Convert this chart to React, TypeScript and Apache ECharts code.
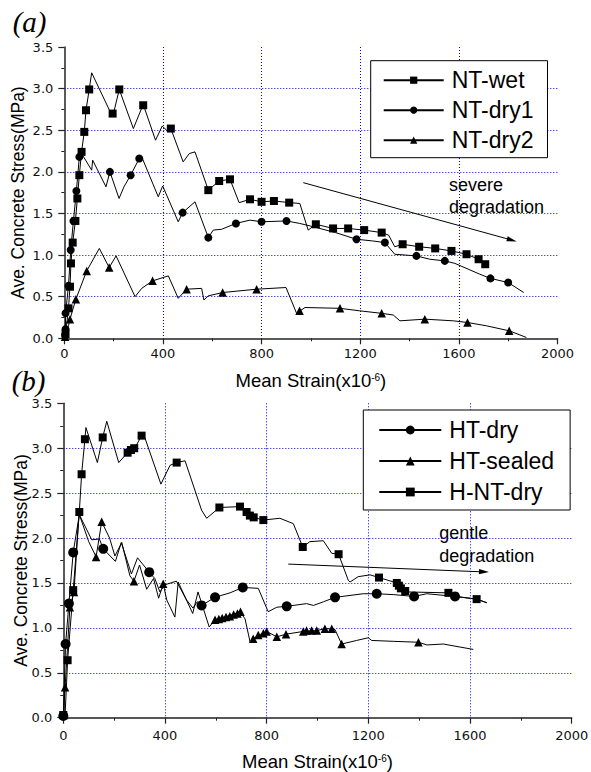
import { useEffect, useRef } from 'react';
import * as echarts from 'echarts';

type P = [number, number];

// ---------- axes ----------
const X_MAX = 2000;
const X_STEP = 400;
const Y_MAX = 3.5;
const Y_STEP = 0.5;
const X_TITLE = 'Mean Strain(x10{sup|-6})';
const Y_TITLE = 'Ave. Concrete Stress(MPa)';

// ---------- panel (a) ----------
const NT_WET_LINE: P[] = [
  [0, 0], [5, 0.05], [17, 0.36], [23, 0.62], [27, 0.9], [34, 1.15], [45, 1.41], [53, 1.68], [61, 1.96],
  [70, 2.24], [81, 2.48], [88, 2.74], [101, 2.99], [111, 3.19], [196, 2.66], [223, 2.99], [280, 2.52],
  [320, 2.81], [370, 2.38], [397, 2.55], [415, 2.5], [432, 2.52], [482, 2.12], [507, 2.22], [530, 2.24],
  [584, 1.78], [628, 1.89], [672, 1.91], [709, 1.63], [753, 1.67], [800, 1.64], [850, 1.65], [915, 1.63],
  [955, 1.62], [989, 1.3], [1020, 1.37], [1090, 1.32], [1151, 1.32], [1216, 1.3], [1287, 1.27],
  [1315, 1.24], [1340, 1.1], [1372, 1.13], [1439, 1.1], [1504, 1.08], [1570, 1.05], [1631, 1.01],
  [1680, 0.95], [1707, 0.89],
];
const NT_WET_MARKS: P[] = [
  [5, 0.05], [17, 0.36], [23, 0.62], [27, 0.9], [34, 1.15], [45, 1.41], [53, 1.68], [61, 1.96], [70, 2.24],
  [81, 2.48], [88, 2.74], [101, 2.99], [196, 2.7], [223, 2.99], [320, 2.8], [432, 2.52], [584, 1.78],
  [628, 1.89], [672, 1.91], [753, 1.67], [800, 1.64], [850, 1.65], [912, 1.63], [1020, 1.37], [1090, 1.32],
  [1151, 1.32], [1216, 1.3], [1287, 1.27], [1372, 1.13], [1439, 1.1], [1504, 1.08], [1570, 1.05],
  [1631, 1.01], [1680, 0.95], [1707, 0.89],
];

const NT_DRY1_LINE: P[] = [
  [0, 0], [3, 0.04], [5, 0.11], [5, 0.3], [17, 0.63], [26, 1.06], [37, 1.41], [49, 1.77], [61, 2.18],
  [70, 2.22], [111, 2.02], [115, 2.14], [169, 1.82], [185, 2.0], [222, 1.68], [242, 1.82], [269, 1.96],
  [304, 2.16], [314, 2.18], [381, 1.7], [399, 1.83], [462, 1.4], [480, 1.51], [530, 1.64], [584, 1.21],
  [604, 1.3], [638, 1.31], [696, 1.38], [753, 1.42], [800, 1.4], [901, 1.41], [955, 1.38], [1010, 1.34],
  [1100, 1.27], [1185, 1.19], [1250, 1.17], [1300, 1.15], [1340, 1.01], [1428, 0.99], [1482, 0.95],
  [1543, 0.93], [1584, 0.9], [1685, 0.77], [1728, 0.72], [1800, 0.67], [1863, 0.55],
];
const NT_DRY1_MARKS: P[] = [
  [3, 0.04], [5, 0.11], [5, 0.3], [17, 0.63], [26, 1.06], [37, 1.41], [49, 1.77], [61, 2.18], [185, 2.0],
  [269, 1.96], [304, 2.16], [480, 1.51], [584, 1.21], [696, 1.38], [800, 1.4], [901, 1.41], [1185, 1.19],
  [1300, 1.15], [1428, 0.99], [1543, 0.93], [1728, 0.72], [1800, 0.67],
];

const NT_DRY2_LINE: P[] = [
  [0, 0], [3, 0.02], [17, 0.15], [23, 0.23], [47, 0.47], [91, 0.81], [142, 1.08], [182, 0.85], [210, 0.99],
  [287, 0.5], [314, 0.6], [358, 0.69], [422, 0.75], [462, 0.48], [496, 0.59], [557, 0.6], [566, 0.46],
  [584, 0.51], [642, 0.55], [780, 0.59], [899, 0.61], [942, 0.3], [976, 0.37], [1118, 0.36], [1198, 0.33],
  [1287, 0.3], [1334, 0.28], [1361, 0.21], [1462, 0.23], [1577, 0.21], [1635, 0.19], [1712, 0.15],
  [1804, 0.09], [1874, 0.01],
];
const NT_DRY2_MARKS: P[] = [
  [3, 0.02], [23, 0.23], [47, 0.47], [91, 0.81], [182, 0.85], [358, 0.69], [496, 0.59], [642, 0.55],
  [780, 0.59], [954, 0.33], [1118, 0.36], [1287, 0.3], [1462, 0.23], [1635, 0.19], [1804, 0.09],
];

// ---------- panel (b) ----------
const HT_DRY_LINE: P[] = [
  [0, 0], [9, 0.82], [22, 1.27], [39, 1.84], [63, 2.26], [112, 1.98], [142, 1.99], [157, 1.88], [205, 1.74],
  [228, 1.95], [268, 1.6], [292, 1.78], [315, 1.7], [338, 1.62], [360, 1.55], [380, 1.4], [400, 1.48],
  [445, 1.52], [485, 1.31], [510, 1.22], [527, 1.29], [544, 1.25], [597, 1.34], [620, 1.36], [656, 1.39],
  [706, 1.45], [767, 1.44], [806, 1.18], [840, 1.23], [879, 1.24], [957, 1.27], [984, 1.25], [1023, 1.29],
  [1069, 1.34], [1180, 1.38], [1233, 1.38], [1300, 1.37], [1380, 1.35], [1430, 1.38], [1541, 1.35],
  [1600, 1.33], [1626, 1.32], [1666, 1.28],
];
const HT_DRY_MARKS: P[] = [
  [0, 0.02], [9, 0.82], [22, 1.27], [39, 1.84], [157, 1.88], [338, 1.62], [544, 1.25], [597, 1.34],
  [706, 1.45], [879, 1.24], [1069, 1.34], [1233, 1.38], [1380, 1.35], [1541, 1.35],
];

const HT_SEALED_LINE: P[] = [
  [0, 0], [7, 0.34], [26, 1.23], [42, 1.4], [62, 2.27], [100, 1.96], [129, 1.79], [151, 2.18], [182, 2.0],
  [203, 1.8], [230, 1.95], [262, 1.58], [278, 1.52], [300, 1.7], [328, 1.43], [355, 1.55], [375, 1.33],
  [393, 1.49], [407, 1.31], [439, 1.12], [452, 1.51], [509, 1.16], [530, 1.4], [574, 1.01], [597, 1.09],
  [620, 1.11], [645, 1.13], [670, 1.15], [695, 1.18], [715, 1.1], [735, 0.84], [747, 0.88], [770, 0.92],
  [800, 0.96], [840, 0.9], [876, 0.93], [944, 0.96], [997, 0.97], [1029, 0.99], [1056, 0.99], [1069, 0.98],
  [1095, 0.82], [1154, 0.86], [1200, 0.89], [1213, 0.86], [1300, 0.85], [1397, 0.84], [1430, 0.81],
  [1495, 0.82], [1613, 0.76],
];
const HT_SEALED_MARKS: P[] = [
  [3, 0.03], [7, 0.34], [26, 1.23], [42, 1.4], [129, 1.79], [151, 2.18], [278, 1.52], [393, 1.49],
  [597, 1.09], [612, 1.1], [625, 1.11], [640, 1.12], [655, 1.13], [670, 1.15], [685, 1.16], [697, 1.18],
  [747, 0.88], [767, 0.92], [787, 0.94], [800, 0.96], [840, 0.9], [876, 0.93], [944, 0.96], [957, 0.97],
  [977, 0.97], [997, 0.97], [1029, 0.99], [1056, 0.99], [1095, 0.82], [1397, 0.84],
];

const H_NT_DRY_LINE: P[] = [
  [0, 0], [7, 0.03], [17, 0.64], [39, 1.42], [63, 2.29], [72, 2.71], [85, 3.1], [89, 3.23], [134, 2.84],
  [155, 3.12], [171, 3.3], [218, 2.84], [253, 2.95], [266, 2.98], [279, 2.99], [308, 3.14], [318, 3.14],
  [384, 2.6], [420, 2.81], [446, 2.84], [479, 2.86], [544, 2.31], [564, 2.22], [614, 2.34], [695, 2.35],
  [721, 2.29], [734, 2.25], [749, 2.23], [787, 2.2], [852, 2.22], [905, 2.16], [942, 1.9], [970, 1.96],
  [1023, 1.97], [1056, 1.83], [1083, 1.82], [1121, 1.53], [1128, 1.51], [1160, 1.57], [1207, 1.59],
  [1242, 1.56], [1312, 1.5], [1322, 1.46], [1331, 1.43], [1351, 1.4], [1515, 1.39], [1541, 1.35],
  [1626, 1.32], [1666, 1.28],
];
const H_NT_DRY_MARKS: P[] = [
  [0, 0.03], [17, 0.64], [39, 1.42], [63, 2.29], [72, 2.71], [85, 3.1], [155, 3.12], [253, 2.95],
  [266, 2.98], [279, 3.0], [308, 3.14], [446, 2.84], [614, 2.34], [695, 2.35], [721, 2.29], [734, 2.25],
  [749, 2.23], [787, 2.2], [942, 1.9], [1083, 1.82], [1242, 1.56], [1312, 1.5], [1320, 1.47], [1328, 1.44],
  [1345, 1.41], [1515, 1.39], [1626, 1.32],
];

// ---------- annotation arrows (data coordinates) ----------
const ARROW_A: P[] = [[969, 1.87], [1815, 1.18]];
const ARROW_B: P[] = [[885, 1.71], [1655, 1.623]];

const SANS = 'Liberation Sans';
const TICK_FONT = 'DejaVu Sans';
const AXIS_COLOR = '#222';
const GRID_COLOR = '#0000ff';
// slim arrow head: triangle inside a square bounding box
const ARROW_HEAD = 'path://M5 0L7.6 10L2.4 10Z M0 0L0 0.01L0.01 0.01Z M10 10L10 9.99L9.99 9.99Z';

function xAxis(gridIndex: number, labelMargin: number, nameGap: number) {
  return {
    type: 'value',
    gridIndex,
    min: 0,
    max: X_MAX,
    interval: X_STEP,
    name: X_TITLE,
    nameLocation: 'middle',
    nameGap,
    nameMoveOverlap: false,
    nameTextStyle: {
      fontFamily: SANS,
      fontSize: 18.5,
      color: '#000',
      lineHeight: 20,
      rich: {
        sup: { fontFamily: SANS, fontSize: 10, lineHeight: 10, color: '#000', verticalAlign: 'middle', padding: [0, 0, 5, 0] },
      },
    },
    axisLine: { show: true, onZero: false, lineStyle: { color: AXIS_COLOR, width: 1.5 } },
    axisTick: { show: true, inside: false, length: 6, lineStyle: { color: AXIS_COLOR, width: 1.2 } },
    minorTick: { show: true, splitNumber: 2, length: 3, lineStyle: { color: AXIS_COLOR, width: 1 } },
    axisLabel: {
      show: true,
      margin: labelMargin,
      fontFamily: TICK_FONT,
      fontSize: 13,
      color: '#111',
      showMinLabel: true,
      showMaxLabel: true,
      formatter: (v: number) => String(v),
    },
    splitLine: {
      show: true,
      showMinLine: false,
      showMaxLine: false,
      lineStyle: { color: GRID_COLOR, width: 1, type: [1, 2] },
    },
    minorSplitLine: { show: false },
  };
}

function yAxis(gridIndex: number, nameGap: number) {
  return {
    type: 'value',
    gridIndex,
    min: 0,
    max: Y_MAX,
    interval: Y_STEP,
    name: Y_TITLE,
    nameLocation: 'middle',
    nameGap,
    nameMoveOverlap: false,
    nameTextStyle: { fontFamily: SANS, fontSize: 17.5, color: '#000', lineHeight: 18 },
    axisLine: { show: true, onZero: false, lineStyle: { color: AXIS_COLOR, width: 1.5 } },
    axisTick: { show: true, inside: false, length: 6, lineStyle: { color: AXIS_COLOR, width: 1.2 } },
    minorTick: { show: true, splitNumber: 2, length: 3, lineStyle: { color: AXIS_COLOR, width: 1 } },
    axisLabel: {
      show: true,
      margin: 11,
      fontFamily: TICK_FONT,
      fontSize: 13,
      color: '#111',
      showMinLabel: true,
      showMaxLabel: true,
      formatter: (v: number) => v.toFixed(1),
    },
    splitLine: {
      show: true,
      showMinLine: false,
      showMaxLine: false,
      lineStyle: { color: GRID_COLOR, width: 1, type: [1, 2] },
    },
    minorSplitLine: { show: false },
  };
}

function curve(name: string, data: P[], symbol: string, idx: number, arrow?: P[]) {
  const s: any = {
    type: 'line',
    name,
    xAxisIndex: idx,
    yAxisIndex: idx,
    data,
    symbol,
    symbolSize: 8,
    showSymbol: false,
    smooth: false,
    silent: true,
    lineStyle: { color: '#000', width: 1 },
    itemStyle: { color: '#000' },
    z: 2,
  };
  if (arrow) {
    s.markLine = {
      silent: true,
      animation: false,
      symbol: ['none', ARROW_HEAD],
      symbolSize: 10,
      label: { show: false },
      itemStyle: { color: '#000' },
      lineStyle: { color: '#000', width: 1, type: 'solid' },
      emphasis: { disabled: true },
      data: [[{ coord: arrow[0] }, { coord: arrow[1] }]],
    };
  }
  return s;
}

function marks(name: string, data: P[], symbol: string, size: number, idx: number) {
  return {
    type: 'scatter',
    name: name + ' markers',
    xAxisIndex: idx,
    yAxisIndex: idx,
    data,
    symbol,
    symbolSize: size,
    silent: true,
    itemStyle: { color: '#000', opacity: 1 },
    z: 3,
  };
}

function legend(names: string[], left: number, top: number, itemWidth: number, itemHeight: number, lh: number, padding: number[]) {
  return {
    show: true,
    orient: 'vertical',
    left,
    top,
    data: names,
    itemWidth,
    itemHeight,
    itemGap: 7,
    padding,
    align: 'left',
    selectedMode: false,
    borderColor: '#000',
    borderWidth: 1,
    backgroundColor: '#fff',
    textStyle: { fontFamily: SANS, fontSize: 23, color: '#000', lineHeight: lh, padding: [0, 0, 0, 3] },
  };
}

function label(text: string, x: number, y: number) {
  return {
    type: 'text',
    x,
    y,
    silent: true,
    style: { text, fill: '#000', fontFamily: SANS, fontSize: 18, textAlign: 'left', textVerticalAlign: 'middle' },
  };
}

function panelTag(text: string, x: number, y: number) {
  return {
    type: 'text',
    x,
    y,
    silent: true,
    style: {
      text,
      fill: '#000',
      fontFamily: 'Liberation Serif',
      fontStyle: 'italic',
      fontSize: 29,
      textAlign: 'left',
      textVerticalAlign: 'middle',
    },
  };
}

export default function App() {
  const ref = useRef<HTMLDivElement>(null);
  useEffect(() => {
    if (!ref.current) return;
    const chart = echarts.init(ref.current, null, { renderer: 'svg' });
    chart.setOption({
      animation: false,
      backgroundColor: '#fff',
      grid: [
        { left: 64.3, top: 47, width: 493.2, height: 291.3, outerBoundsMode: 'none' },
        { left: 63.3, top: 403.3, width: 508.4, height: 314.4, outerBoundsMode: 'none' },
      ],
      xAxis: [xAxis(0, 8.5, 32), xAxis(1, 11, 33.5)],
      yAxis: [yAxis(0, 37.4), yAxis(1, 33.7)],
      legend: [
        legend(['NT-wet', 'NT-dry1', 'NT-dry2'], 370.7, 60.7, 60, 9, 23, [8, 14, 6, 12]),
        legend(['HT-dry', 'HT-sealed', 'H-NT-dry'], 363.3, 410, 62, 11, 24, [8, 16, 6, 15]),
      ],
      series: [
        curve('NT-wet', NT_WET_LINE, 'rect', 0, ARROW_A),
        curve('NT-dry1', NT_DRY1_LINE, 'circle', 0),
        curve('NT-dry2', NT_DRY2_LINE, 'triangle', 0),
        marks('NT-wet', NT_WET_MARKS, 'rect', 8, 0),
        marks('NT-dry1', NT_DRY1_MARKS, 'circle', 8, 0),
        marks('NT-dry2', NT_DRY2_MARKS, 'triangle', 8.5, 0),
        curve('HT-dry', HT_DRY_LINE, 'circle', 1),
        curve('HT-sealed', HT_SEALED_LINE, 'triangle', 1),
        curve('H-NT-dry', H_NT_DRY_LINE, 'rect', 1, ARROW_B),
        marks('HT-dry', HT_DRY_MARKS, 'circle', 10, 1),
        marks('HT-sealed', HT_SEALED_MARKS, 'triangle', 8.5, 1),
        marks('H-NT-dry', H_NT_DRY_MARKS, 'rect', 8, 1),
      ],
      graphic: [
        panelTag('(a)', 12.7, 21.7),
        panelTag('(b)', 11.7, 381),
        label('severe', 449, 184.5),
        label('degradation', 449, 207),
        label('gentle', 439.3, 532.8),
        label('degradation', 439.3, 555.5),
      ],
    });
    return () => chart.dispose();
  }, []);
  return <div ref={ref} style={{ position: 'fixed', left: 0, top: 0, width: 591, height: 772 }} />;
}
